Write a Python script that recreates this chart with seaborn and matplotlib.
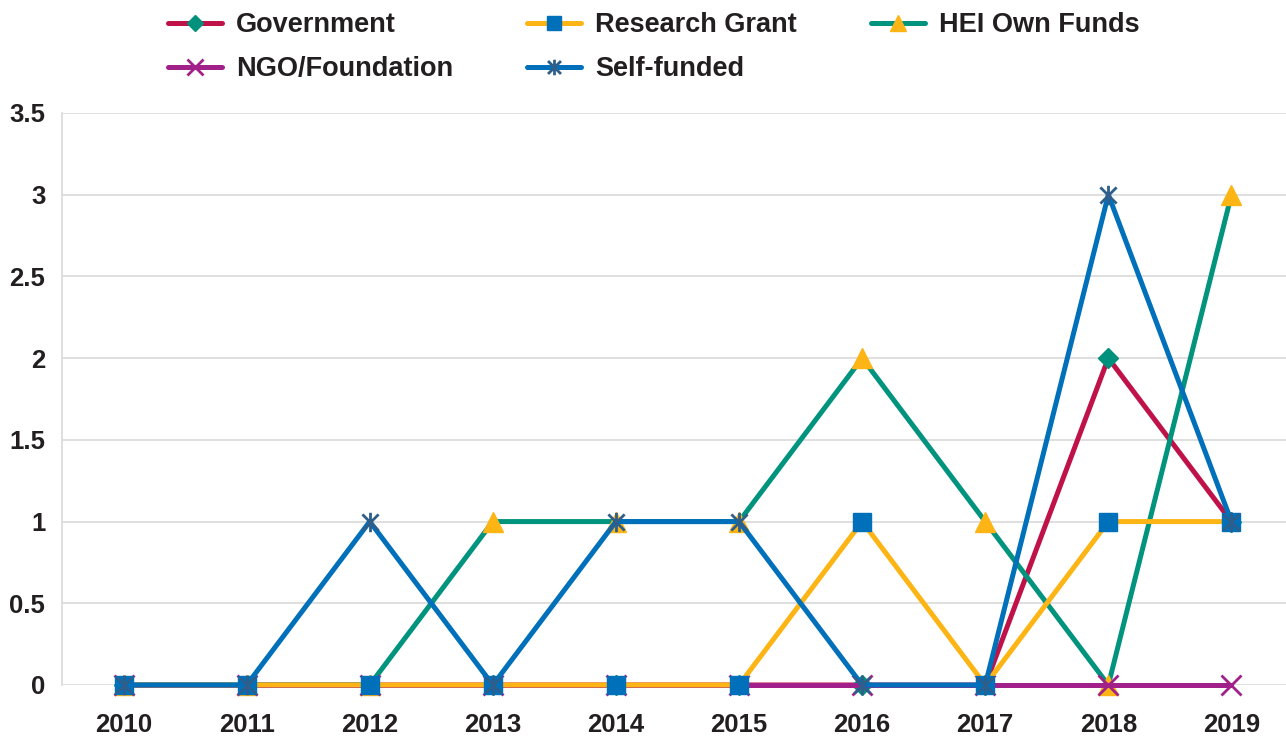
import matplotlib
matplotlib.use("Agg")
import matplotlib.pyplot as plt
from matplotlib.path import Path
import seaborn as sns

# data
years = [2010, 2011, 2012, 2013, 2014, 2015, 2016, 2017, 2018, 2019]
government = [0, 0, 0, 0, 0, 0, 0, 0, 2, 1]
research_grant = [0, 0, 0, 0, 0, 0, 1, 0, 1, 1]
hei_own_funds = [0, 0, 0, 1, 1, 1, 2, 1, 0, 3]
ngo_foundation = [0, 0, 0, 0, 0, 0, 0, 0, 0, 0]
self_funded = [0, 0, 1, 0, 1, 1, 0, 0, 3, 1]
y_ticks = [0, 0.5, 1, 1.5, 2, 2.5, 3, 3.5]
y_tick_labels = ["0", "0.5", "1", "1.5", "2", "2.5", "3", "3.5"]

sns.set_style("white")
plt.rcParams["font.family"] = ["Liberation Sans", "DejaVu Sans"]
text_color = "#231F20"

# Excel-style star marker: an x with a vertical bar through it
star = Path([(-1, -1), (1, 1), (-1, 1), (1, -1), (0, -1.2), (0, 1.2)],
            [Path.MOVETO, Path.LINETO, Path.MOVETO, Path.LINETO, Path.MOVETO, Path.LINETO])

fig = plt.figure(figsize=(12.86, 7.37), dpi=100)
ax = fig.add_axes([62 / 1286, 52 / 737, 1231 / 1286, 572 / 737])

lw = 3.6
# drawing order (bottom to top)
series = [
    ("Government", government, "#BE1248", "D", "#00917C", 10, 1.0),
    ("HEI Own Funds", hei_own_funds, "#00937E", "^", "#FDB515", 14, 1.0),
    ("NGO/Foundation", ngo_foundation, "#A1208A", "x", "#A1208A", 14, 2.0),
    ("Research Grant", research_grant, "#FDB515", "s", "#0070BA", 13, 1.0),
    ("Self-funded", self_funded, "#0070BA", star, "#2F5E8A", 14, 2.0),
]

handles = {}
for name, vals, lc, mk, mc, ms, mew in series:
    sns.lineplot(x=years, y=vals, ax=ax, color=lc, linewidth=lw,
                 marker=mk, markersize=ms, markerfacecolor=mc,
                 markeredgecolor=mc, markeredgewidth=mew, clip_on=False)
    handles[name] = ax.lines[-1]

ax.set_xlim(2009.5, 2019.5)
ax.set_ylim(0, 3.5)
ax.set_xticks(years)
ax.set_xticklabels([str(y) for y in years])
ax.set_yticks(y_ticks)
ax.set_yticklabels(y_tick_labels)
ax.tick_params(axis="x", length=0, pad=20, labelsize=18.5, labelcolor=text_color)
ax.tick_params(axis="y", length=0, pad=12, labelsize=18.5, labelcolor=text_color)
for lab in ax.get_xticklabels() + ax.get_yticklabels():
    lab.set_fontweight("bold")

ax.grid(axis="y", color="#D9D9D9", linewidth=1.2)
ax.set_axisbelow(True)
for s in ["top", "right", "bottom"]:
    ax.spines[s].set_visible(False)
ax.spines["left"].set_color("#D9D9D9")
ax.spines["left"].set_linewidth(1.2)
ax.set_xlabel("")
ax.set_ylabel("")

# legend in column-major order so rows read like the reference
order = ["Government", "NGO/Foundation", "Research Grant", "Self-funded", "HEI Own Funds"]
leg = fig.legend([handles[n] for n in order], order, ncol=3, loc="upper left",
                 bbox_to_anchor=(168 / 1286, 1 - 12 / 737), frameon=False,
                 prop={"size": 19.5, "weight": "bold"}, handlelength=2.0,
                 handletextpad=0.5, columnspacing=2.75, labelspacing=0.68,
                 markerscale=0.8, borderpad=0, borderaxespad=0)
for t in leg.get_texts():
    t.set_color(text_color)

fig.savefig("out.png", dpi=100)
